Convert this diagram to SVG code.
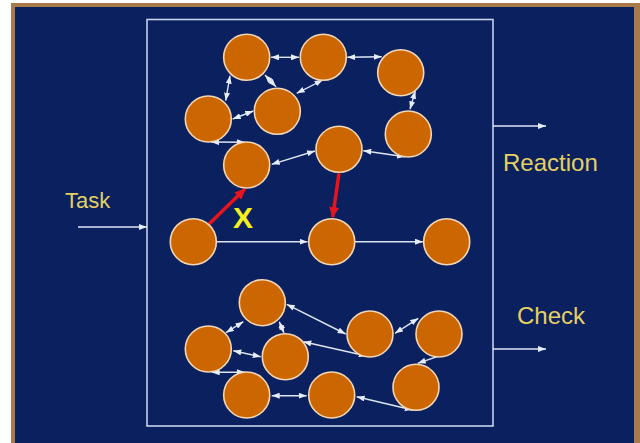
<svg xmlns="http://www.w3.org/2000/svg" width="640" height="443" viewBox="0 0 640 443">
<defs>
<marker id="ah" markerUnits="userSpaceOnUse" markerWidth="8" markerHeight="6" refX="8" refY="3" orient="auto-start-reverse"><path d="M0,0 L8,3 L0,6 z" fill="#e6ecf8"/></marker>
<marker id="rh" markerUnits="userSpaceOnUse" markerWidth="11" markerHeight="10" refX="10" refY="5" orient="auto"><path d="M0,0 L11,5 L0,10 z" fill="#e8141c"/></marker>
<style>
.n{fill:#cc6600;stroke:#f3d6b6;stroke-width:1.6}
.e{stroke:#dde4f4;stroke-width:1.4;fill:none;marker-end:url(#ah)}
.d{marker-start:url(#ah)}
.r{stroke:#e8141c;stroke-width:3.5;fill:none;marker-end:url(#rh)}
.t{font-family:"Liberation Sans",Arial,sans-serif;fill:#e4d063}
</style>
</defs>
<rect width="640" height="443" fill="#ffffff"/>
<rect x="11" y="3" width="629" height="440" fill="#a97a4a"/>
<rect x="15" y="7" width="619" height="436" fill="#0b215f"/>
<rect x="147" y="19.5" width="346" height="406.5" fill="none" stroke="#c9d2ea" stroke-width="1.6"/>
<g id="labels">
<text class="t" x="65" y="208" font-size="22">Task</text>
<text class="t" x="503" y="171" font-size="24">Reaction</text>
<text class="t" x="517" y="324" font-size="24">Check</text>
<text x="233" y="228" font-family="'Liberation Sans',Arial,sans-serif" font-weight="bold" font-size="30" fill="#f4f020">X</text>
</g>
<g id="connectors">
<line class="e" x1="78" y1="227" x2="147" y2="227"/>
<line class="e" x1="493" y1="126" x2="546" y2="126"/>
<line class="e" x1="493" y1="349" x2="546" y2="349"/>
<line class="e d" x1="271" y1="57.3" x2="299" y2="57.3"/>
<line class="e d" x1="347.3" y1="57.3" x2="381.7" y2="56.7"/>
<line class="e d" x1="230" y1="75.7" x2="225.7" y2="100.7"/>
<line class="e d" x1="265" y1="75" x2="276" y2="86.7"/>
<line class="e d" x1="296.7" y1="93.3" x2="322.7" y2="80"/>
<line class="e d" x1="253.3" y1="111" x2="232.7" y2="119"/>
<line class="e d" x1="415.3" y1="91" x2="410" y2="109.3"/>
<line class="e d" x1="211" y1="142" x2="245" y2="142.3"/>
<line class="e d" x1="271.7" y1="164.3" x2="315" y2="151"/>
<line class="e d" x1="363.3" y1="150.7" x2="405" y2="156.7"/>
<line class="r" x1="208" y1="225" x2="245" y2="189"/>
<line class="r" x1="339" y1="173.3" x2="332.7" y2="217"/>
<line class="e" x1="216.7" y1="241.7" x2="307.5" y2="241.7"/>
<line class="e" x1="355" y1="241.7" x2="423" y2="241.7"/>
<line class="e d" x1="243.3" y1="321.7" x2="226" y2="332.7"/>
<line class="e d" x1="279.3" y1="321.7" x2="284" y2="333"/>
<line class="e d" x1="286.7" y1="304.3" x2="345.7" y2="334"/>
<line class="e d" x1="233.3" y1="350.7" x2="260.7" y2="356.7"/>
<line class="e d" x1="303.3" y1="341.7" x2="366.7" y2="356"/>
<line class="e d" x1="395" y1="333.3" x2="418.3" y2="318.3"/>
<line class="e d" x1="211.7" y1="372.3" x2="245" y2="372.3"/>
<line class="e d" x1="453.3" y1="351" x2="417.7" y2="363.3"/>
<line class="e d" x1="271.7" y1="395.7" x2="306.7" y2="395.7"/>
<line class="e d" x1="356.7" y1="396.7" x2="412.7" y2="410"/>
</g>
<g id="nA"><circle class="n" cx="246.7" cy="57.3" r="23"/></g>
<g id="nB"><circle class="n" cx="323.3" cy="57.3" r="23"/></g>
<g id="nC"><circle class="n" cx="400.7" cy="72.7" r="23"/></g>
<g id="nD"><circle class="n" cx="208.3" cy="119" r="23"/></g>
<g id="nE"><circle class="n" cx="277.3" cy="111.3" r="23"/></g>
<g id="nF"><circle class="n" cx="408.3" cy="134" r="23"/></g>
<g id="nG"><circle class="n" cx="246.7" cy="165" r="23"/></g>
<g id="nH"><circle class="n" cx="339" cy="149.3" r="23"/></g>
<g id="nI"><circle class="n" cx="193.3" cy="241.7" r="23"/></g>
<g id="nJ"><circle class="n" cx="331.7" cy="241.7" r="23"/></g>
<g id="nK"><circle class="n" cx="446.7" cy="241.7" r="23"/></g>
<g id="nL"><circle class="n" cx="262.3" cy="302.7" r="23"/></g>
<g id="nM"><circle class="n" cx="208.3" cy="349" r="23"/></g>
<g id="nN"><circle class="n" cx="285.3" cy="356.7" r="23"/></g>
<g id="nO"><circle class="n" cx="370" cy="334" r="23"/></g>
<g id="nP"><circle class="n" cx="439" cy="334" r="23"/></g>
<g id="nQ"><circle class="n" cx="246.7" cy="395" r="23"/></g>
<g id="nR"><circle class="n" cx="331.7" cy="395" r="23"/></g>
<g id="nS"><circle class="n" cx="416" cy="387.3" r="23"/></g>
</svg>
